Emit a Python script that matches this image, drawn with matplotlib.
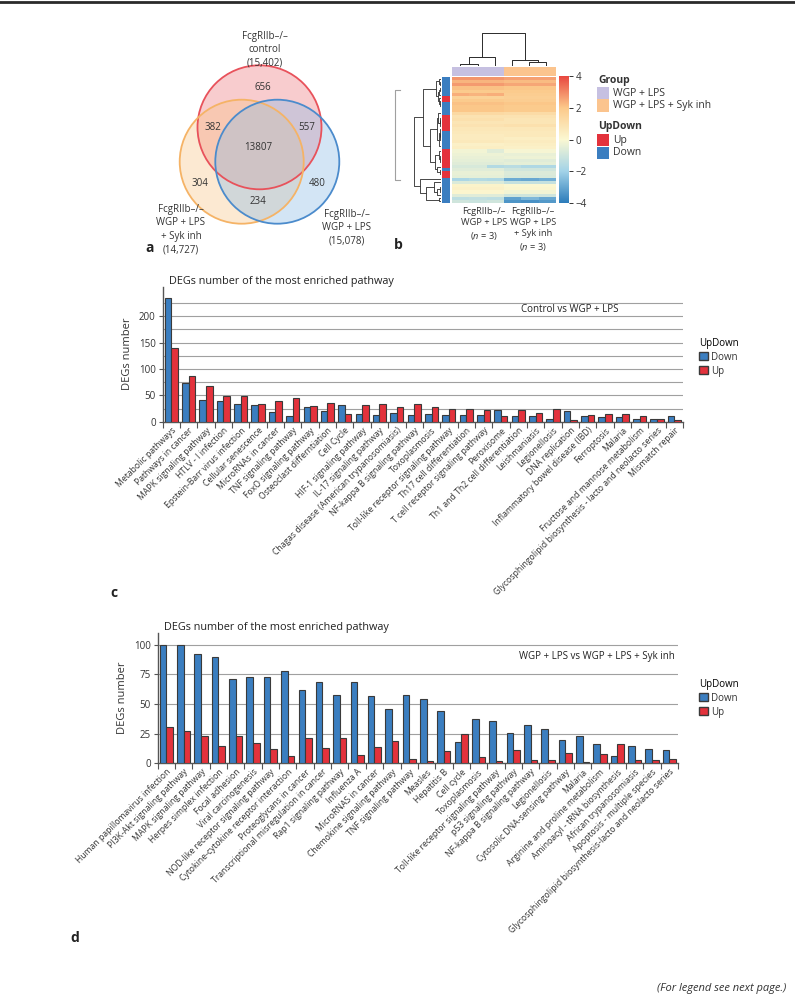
import numpy as np
import matplotlib
matplotlib.use("Agg")
import matplotlib.pyplot as plt
from matplotlib.patches import Circle, Patch
from matplotlib.lines import Line2D
from matplotlib.collections import LineCollection
from matplotlib.colors import LinearSegmentedColormap, ListedColormap

plt.rcParams['font.family'] = ['Open Sans', 'DejaVu Sans']
plt.rcParams['mathtext.fontset'] = 'custom'
plt.rcParams['mathtext.it'] = 'Open Sans:italic'
plt.rcParams['mathtext.rm'] = 'Open Sans'

W, H = 795, 1000
TXT = '#333333'
BLUE = '#3b7ec0'
RED = '#e3323c'
EDGE = '#3a3a3a'

# ---- panel a : venn
venn_sets = ["FcgRIIb–/–\ncontrol\n(15,402)",
             "FcgRIIb–/–\nWGP + LPS\n+ Syk inh\n(14,727)",
             "FcgRIIb–/–\nWGP + LPS\n(15,078)"]
venn_regions = ["656", "382", "557", "13807", "304", "480", "234"]

# ---- panel b : heatmap rows (3 x WGP+LPS, 3 x WGP+LPS+Syk inh)
heat_rows = [
    [2.8, 2.8, 2.8, 2.6, 2.6, 2.6],
    [2.3, 2.3, 2.3, 2.2, 2.2, 2.2],
    [2.7, 2.7, 2.7, 2.5, 2.5, 2.5],
    [2.1, 2.1, 2.1, 2.0, 2.0, 2.0],
    [1.9, 1.9, 1.9, 1.9, 1.9, 1.9],
    [2.4, 2.3, 2.4, 1.8, 1.8, 1.8],
    [1.6, 1.6, 1.6, 1.7, 1.7, 1.7],
    [1.9, 1.9, 1.9, 1.8, 1.8, 1.8],
    [2.1, 2.1, 2.1, 2.0, 2.0, 2.0],
    [2.0, 2.0, 2.0, 1.9, 1.9, 1.9],
    [2.0, 2.0, 2.0, 1.9, 1.9, 1.9],
    [1.3, 1.3, 1.3, 1.2, 1.2, 1.2],
    [0.9, 0.9, 0.9, 0.9, 0.9, 0.9],
    [1.0, 1.0, 1.0, 0.8, 0.8, 0.8],
    [0.8, 0.8, 0.8, 0.8, 0.8, 0.8],
    [0.9, 0.9, 0.9, 1.0, 1.0, 1.0],
    [0.7, 0.7, 0.7, 0.7, 0.7, 0.7],
    [0.6, 0.6, 0.6, 0.6, 0.6, 0.6],
    [0.5, 0.5, 0.5, 0.6, 0.6, 0.6],
    [0.5, 0.5, 0.5, 0.4, 0.4, 0.4],
    [0.6, 0.6, 0.6, 0.5, 0.5, 0.5],
    [0.3, 0.3, 0.3, 0.4, 0.4, 0.4],
    [0.4, 0.4, 0.4, 0.3, 0.3, 0.3],
    [-0.2, -0.2, -0.6, -0.1, -0.1, -0.1],
    [-0.3, -0.3, -0.3, -0.4, -0.4, -0.4],
    [-0.4, -0.4, -0.4, -0.3, -0.3, -0.3],
    [-0.5, -0.5, -0.5, -0.6, -0.6, -0.6],
    [-0.6, -0.6, -0.6, -0.5, -0.5, -0.5],
    [-0.8, -0.8, -1.6, -1.5, -1.7, -1.7],
    [-0.6, -0.6, -0.6, -1.0, -1.0, -1.0],
    [-0.4, -0.4, -0.4, -0.7, -0.7, -0.7],
    [-0.5, -0.5, -0.5, -0.8, -0.8, -0.8],
    [-1.8, -1.6, -1.7, -2.9, -3.0, -2.8],
    [-0.7, -0.7, -0.7, -1.2, -1.2, -1.2],
    [0.2, 0.2, 0.2, 0.0, 0.0, 0.0],
    [0.3, 0.3, 0.3, 0.1, 0.1, 0.1],
    [0.1, 0.1, 0.1, -0.2, -0.2, -0.2],
    [-0.6, -0.6, -0.6, -1.0, -1.0, -1.0],
    [-1.4, -1.3, -1.4, -3.1, -2.6, -3.0],
    [-1.0, -1.1, -1.0, -3.4, -3.5, -3.3],
]
# 1 = Up, 0 = Down
heat_updown = [0, 0, 0, 0, 0, 0, 1, 1, 0, 0, 0, 0, 1, 1, 1, 1, 1, 0, 0, 0,
               0, 0, 0, 1, 1, 1, 1, 1, 1, 0, 1, 1, 0, 0, 0, 0, 0, 0, 0, 0]
heat_groups = [0, 0, 0, 1, 1, 1]
group_names = ["WGP + LPS", "WGP + LPS + Syk inh"]
col_labels = ["FcgRIIb–/–\nWGP + LPS\n($\\it{n}$ = 3)",
              "FcgRIIb–/–\nWGP + LPS\n+ Syk inh\n($\\it{n}$ = 3)"]

# ---- panel c
cats_c = ["Metabolic pathways", "Pathways in cancer", "MAPK signaling pathway",
          "HTLV - I infection", "Epstein-Barr virus infection", "Cellular senescence",
          "MicroRNAs in cancer", "TNF signaling pathway", "FoxO signaling pathway",
          "Osteoclast differntiation", "Cell Cycle", "HIF-1 signaling pathway",
          "IL-17 signaling pathway", "Chagas disease (American trypanosomiasis)",
          "NF-kappa B signaling pathway", "Toxoplasmosis",
          "Toll-like receptor signaling pathway", "Th17 cell differentiation",
          "T cell receptor signaling pathway", "Peroxisome",
          "Th1 and Th2 cell differentiation", "Leishmaniasis", "Legionellosis",
          "DNA replication", "Inflammatory bowel disease (IBD)", "Ferroptosis", "Malaria",
          "Fructose and mannose metabolism",
          "Glycosphingolipid biosynthesis - lacto and neolacto series", "Mismatch repair"]
down_c = [234, 73, 42, 39, 33, 32, 18, 11, 27, 20, 32, 14, 12, 16, 13, 14, 13, 13, 13, 22,
          11, 11, 5, 21, 10, 8, 8, 6, 6, 11]
up_c = [140, 86, 68, 49, 49, 34, 39, 44, 29, 35, 15, 32, 34, 28, 33, 28, 25, 24, 22, 11,
        22, 17, 24, 3, 13, 15, 14, 11, 6, 3]

# ---- panel d
cats_d = ["Human papillomavirus infection", "PI3K-Akt signaling pathway",
          "MAPK signaling pathway", "Herpes simplex infection", "Focal adhesion",
          "Viral carcinogenesis", "NOD-like receptor signaling pathway",
          "Cytokine-cytokine receptor interaction", "Proteoglycans in cancer",
          "Transcriptional misregulation in cancer", "Rap1 signaling pathway", "Influenza A",
          "MicroRNAS in cancer", "Chemokine signaling pathway", "TNF signaling pathway",
          "Measles", "Hepatitis B", "Cell cycle", "Toxoplasmosis",
          "Toll-like receptor signaling pathway", "p53 signaling pathway",
          "NF-kappa B signaling pathway", "Legionellosis", "Cytosolic DNA-sensing pathway",
          "Malaria", "Arginine and proline metabolism", "Aminoacyl - tRNA biosynthesis",
          "African trypanosomiasis", "Apoptosis - multiple species",
          "Glycosphingolipid biosynthesis-lacto and neolacto series"]
down_d = [100, 100, 92, 90, 71, 73, 73, 78, 62, 69, 58, 69, 57, 46, 58, 54, 44, 18, 37, 36,
          26, 32, 29, 20, 23, 16, 6, 15, 12, 11]
up_d = [31, 27, 23, 15, 23, 17, 12, 6, 21, 13, 21, 7, 14, 19, 4, 2, 10, 25, 5, 2,
        11, 3, 3, 9, 1, 8, 16, 3, 3, 4]


fig = plt.figure(figsize=(W / 100, H / 100), dpi=100)


def px_axes(x0, y0, x1, y1):
    return fig.add_axes([x0 / W, 1 - y1 / H, (x1 - x0) / W, (y1 - y0) / H])


def ftext(x, y, s, **kw):
    kw.setdefault('color', TXT)
    return fig.text(x / W, 1 - y / H, s, **kw)


def ordered_tree(data):
    # agglomerate neighbours only, so the leaf order stays the drawn order
    clusters = [(float(i), 0.0, [i]) for i in range(len(data))]
    segs = []
    while len(clusters) > 1:
        d = [np.linalg.norm(data[a[2]].mean(0) - data[b[2]].mean(0))
             for a, b in zip(clusters[:-1], clusters[1:])]
        k = int(np.argmin(d))
        a, b = clusters[k], clusters[k + 1]
        h = max(a[1], b[1]) + d[k]
        segs.append([(a[0], a[1]), (a[0], h), (b[0], h), (b[0], b[1])])
        clusters[k:k + 2] = [((a[0] + b[0]) / 2, h, a[2] + b[2])]
    return segs, clusters[0][1]


# top border rule
fig.add_artist(Line2D([0, 1], [1 - 1.5 / H] * 2, color='#2a2a2a', lw=2))

# ================= a : venn =================
ax_a = px_axes(140, 0, 400, 260)
ax_a.set_xlim(140, 400)
ax_a.set_ylim(260, 0)
ax_a.axis('off')
circ = [((259.5, 127.3), '#e8525b', '#ee7a80', 0.38),
        ((241.7, 161.7), '#f5b366', '#f9c27f', 0.35),
        ((277.3, 161.7), '#4b8bcc', '#8dbbe6', 0.38)]
for (c, ec, fc, al) in circ:
    ax_a.add_patch(Circle(c, 62, facecolor=fc, alpha=al, edgecolor='none'))
for (c, ec, fc, al) in circ:
    ax_a.add_patch(Circle(c, 62, facecolor='none', edgecolor=ec, lw=1.3))
region_xy = [(263, 88), (213, 127), (307, 128), (258, 148), (200, 183), (317, 183), (258, 202)]
for s, (x, y) in zip(venn_regions, region_xy):
    ax_a.text(x, y, s, ha='center', va='center', fontsize=7, color=TXT)
ftext(265, 31, venn_sets[0], ha='center', va='top', fontsize=7, linespacing=1.3)
ftext(181, 204, venn_sets[1], ha='center', va='top', fontsize=7, linespacing=1.3)
ftext(347, 209, venn_sets[2], ha='center', va='top', fontsize=7, linespacing=1.3)
ftext(145, 248, 'a', fontsize=10, weight='bold', va='center', color='#222')

# ================= b : heatmap =================
data = np.array(heat_rows)
nr, nc = data.shape
cmap = LinearSegmentedColormap.from_list(
    'hm', ['#2b7bba', '#a3d3e8', '#fbf8d2', '#fcc98a', '#e8463f'])

ax_h = px_axes(451.7, 77.3, 555, 202.7)
im = ax_h.imshow(data, cmap=cmap, vmin=-4, vmax=4, aspect='auto', interpolation='nearest')
ax_h.axis('off')

ax_g = px_axes(451.7, 66.7, 555, 75.7)
ax_g.imshow(np.array([heat_groups]), cmap=ListedColormap(['#c6c0e1', '#fbc48e']),
            aspect='auto', vmin=0, vmax=1, interpolation='nearest')
ax_g.axis('off')

ax_s = px_axes(441.7, 77.3, 449.3, 202.7)
ax_s.imshow(np.array(heat_updown)[:, None], cmap=ListedColormap([BLUE, RED]),
            aspect='auto', vmin=0, vmax=1, interpolation='nearest')
ax_s.axis('off')

# row dendrogram
segs, hmax = ordered_tree(data)
ax_rd = px_axes(413, 77.3, 441, 202.7)
ax_rd.add_collection(LineCollection([[(h, p) for p, h in s] for s in segs],
                                    colors='#2a2a2a', linewidths=0.6))
ax_rd.set_xlim(hmax * 1.02, 0)
ax_rd.set_ylim(nr - 0.5, -0.5)
ax_rd.axis('off')

# column dendrogram
csegs, chmax = ordered_tree(data.T)
ax_cd = px_axes(451.7, 32, 555, 66)
ax_cd.add_collection(LineCollection(csegs, colors='#2a2a2a', linewidths=0.7))
ax_cd.set_xlim(-0.5, nc - 0.5)
ax_cd.set_ylim(0, chmax * 1.02)
ax_cd.axis('off')

# colour bar
cax = px_axes(559, 76, 569, 203)
cb = fig.colorbar(im, cax=cax, ticks=[4, 2, 0, -2, -4])
cb.outline.set_visible(False)
cax.tick_params(labelsize=7, length=3, width=0.7, colors=TXT, pad=2)

# side legend
ftext(598, 80, 'Group', fontsize=7.5, weight='bold', va='center')
ftext(598, 126, 'UpDown', fontsize=7.5, weight='bold', va='center')
leg_items = [(93, '#c6c0e1', group_names[0]), (105.5, '#fbc48e', group_names[1]),
             (140, RED, 'Up'), (152.5, BLUE, 'Down')]
for y, col, lab in leg_items:
    fig.add_artist(plt.Rectangle((597 / W, 1 - (y + 6) / H), 12 / W, 12 / H,
                                 facecolor=col, edgecolor='none'))
    ftext(613, y, lab, fontsize=7.5, va='center')

ftext(484, 207, col_labels[0], ha='center', va='top', fontsize=6.7, linespacing=1.3)
ftext(533, 207, col_labels[1], ha='center', va='top', fontsize=6.7, linespacing=1.3)
ftext(394, 245, 'b', fontsize=10, weight='bold', va='center', color='#222')

# faint frame left of b
fig.add_artist(Line2D([400 / W, 395 / W, 395 / W, 400 / W],
                      [1 - 90 / H, 1 - 90 / H, 1 - 180 / H, 1 - 180 / H],
                      color='#a0a0a0', lw=0.8))


# ================= c / d : bar charts =================
def bar_panel(box, cats, down, up, ytop, major, minor, note, note_xy, leg_xy):
    ax = px_axes(*box)
    x = np.arange(len(cats))
    ax.bar(x - 0.19, down, 0.38, color=BLUE, edgecolor=EDGE, lw=0.8, zorder=3, label='Down')
    ax.bar(x + 0.19, up, 0.38, color=RED, edgecolor=EDGE, lw=0.8, zorder=3, label='Up')
    ax.set_xlim(-0.5, len(cats) - 0.5)
    ax.set_ylim(0, ytop)
    for g in minor:
        ax.axhline(g, color='#a0a0a0', lw=0.8, zorder=1)
    ax.set_yticks(major)
    ax.tick_params(axis='y', labelsize=7, length=3, width=0.8, colors='#555',
                   labelcolor=TXT, pad=2)
    ax.set_xticks(x)
    ax.set_xticklabels(cats, rotation=45, ha='right', rotation_mode='anchor',
                       fontsize=6.2, color=TXT)
    ax.tick_params(axis='x', length=0, pad=3)
    ax.set_xticks(np.arange(len(cats) + 1) - 0.5, minor=True)
    ax.tick_params(axis='x', which='minor', length=4, width=0.8, colors='#555')
    for s in ('top', 'right'):
        ax.spines[s].set_visible(False)
    for s in ('left', 'bottom'):
        ax.spines[s].set_color('#555')
        ax.spines[s].set_linewidth(1.0)
    ax.set_ylabel('DEGs number', fontsize=8, color=TXT, labelpad=4)
    ax.text(0.012, 1.0, 'DEGs number of the most enriched pathway', transform=ax.transAxes,
            fontsize=7.8, color='#222', va='bottom', ha='left')
    ax.text(note_xy[0], note_xy[1], note, fontsize=7, color='#222',
            ha='right', va='center', transform=ax.transData)
    fig.legend(handles=[Patch(facecolor=BLUE, edgecolor=EDGE, label='Down'),
                        Patch(facecolor=RED, edgecolor=EDGE, label='Up')],
               title='UpDown', loc='upper left',
               bbox_to_anchor=(leg_xy[0] / W, 1 - leg_xy[1] / H), frameon=False,
               fontsize=7, title_fontsize=7, handlelength=0.9, handleheight=0.9,
               handletextpad=0.4, labelspacing=0.3, alignment='left', labelcolor=TXT)
    return ax


ax_c = bar_panel((162.7, 286.7, 683, 421.7), cats_c, down_c, up_c, 256,
                 [0, 50, 100, 150, 200], np.arange(25, 230, 25),
                 'Control vs WGP + LPS', (25.8, 212), (690, 329))
ftext(110, 593, 'c', fontsize=10, weight='bold', va='center', color='#222')

ax_d = bar_panel((157.7, 633, 678, 763.3), cats_d, down_d, up_d, 110,
                 [0, 25, 50, 75, 100], np.arange(25, 105, 25),
                 'WGP + LPS vs WGP + LPS + Syk inh', (29.3, 90), (690, 670))
ftext(70, 938, 'd', fontsize=10, weight='bold', va='center', color='#222')

ftext(786, 988, '(For legend see next page.)', fontsize=8, style='italic',
      ha='right', va='center')

fig.savefig('out.png', dpi=100)
